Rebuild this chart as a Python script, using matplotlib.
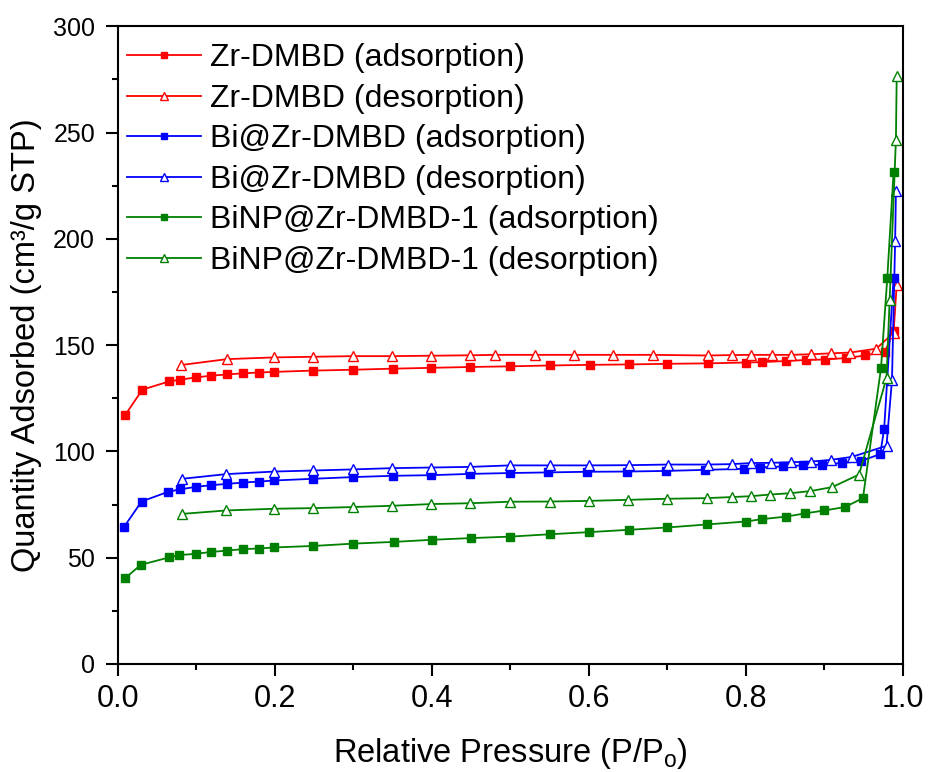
import matplotlib
matplotlib.use("Agg")
import matplotlib.pyplot as plt
from matplotlib.ticker import MultipleLocator

plt.rcParams['font.family'] = ['Liberation Sans', 'DejaVu Sans']

# Zr-DMBD
zr_ads_x = [0.009, 0.031, 0.065, 0.079, 0.099, 0.119, 0.139, 0.159, 0.18, 0.199,
            0.249, 0.299, 0.35, 0.399, 0.449, 0.499, 0.55, 0.601, 0.651, 0.70,
            0.751, 0.80, 0.82, 0.851, 0.876, 0.901, 0.927, 0.952, 0.977, 0.988]
zr_ads_y = [117, 129, 132.9, 133.7, 134.8, 135.6, 136.2, 136.7, 137.1, 137.4,
            138, 138.4, 138.9, 139.3, 139.7, 140.0, 140.4, 140.7, 140.9, 141.2,
            141.4, 141.8, 142.0, 142.5, 143.0, 143.2, 143.9, 145.1, 146.9, 156.4]
zr_des_x = [0.08, 0.139, 0.199, 0.249, 0.299, 0.349, 0.399, 0.449, 0.48, 0.531,
            0.581, 0.631, 0.681, 0.751, 0.782, 0.807, 0.833, 0.857, 0.883, 0.908,
            0.933, 0.966, 0.988, 0.992]
zr_des_y = [140.6, 143.4, 144.2, 144.5, 144.8, 144.8, 145.0, 145.2, 145.4, 145.4,
            145.4, 145.4, 145.4, 145.1, 145.3, 145.4, 145.4, 145.4, 145.7, 146.1,
            146.5, 148.3, 155.8, 178.4]

# Bi@Zr-DMBD
bi_ads_x = [0.008, 0.030, 0.064, 0.079, 0.099, 0.119, 0.139, 0.159, 0.18, 0.199,
            0.249, 0.299, 0.35, 0.399, 0.449, 0.499, 0.548, 0.598, 0.648, 0.698,
            0.748, 0.797, 0.818, 0.847, 0.872, 0.897, 0.922, 0.946, 0.971, 0.976, 0.988]
bi_ads_y = [64.6, 76.4, 81.0, 82.1, 83.3, 84.1, 84.7, 85.3, 85.8, 86.3,
            87.1, 87.9, 88.5, 88.8, 89.4, 89.8, 90.1, 90.4, 90.5, 90.8,
            91.3, 91.8, 92.4, 92.9, 93.4, 93.8, 94.5, 95.4, 98.7, 110.6, 181.5]
bi_des_x = [0.082, 0.138, 0.199, 0.249, 0.299, 0.349, 0.399, 0.449, 0.499, 0.55,
            0.6, 0.651, 0.701, 0.751, 0.782, 0.807, 0.832, 0.857, 0.883, 0.908,
            0.935, 0.979, 0.986, 0.99, 0.991]
bi_des_y = [87.1, 89.3, 90.5, 91.0, 91.5, 92.1, 92.4, 92.7, 93.4, 93.4,
            93.4, 93.5, 93.8, 93.8, 94.0, 94.5, 94.6, 94.9, 95.2, 96.0,
            97.4, 102.6, 133.7, 198.8, 222.3]

# BiNP@Zr-DMBD-1
np_ads_x = [0.009, 0.029, 0.065, 0.078, 0.099, 0.119, 0.139, 0.159, 0.18, 0.199,
            0.249, 0.3, 0.351, 0.4, 0.45, 0.5, 0.55, 0.6, 0.651, 0.70,
            0.75, 0.80, 0.82, 0.851, 0.875, 0.90, 0.926, 0.949, 0.972, 0.98, 0.988]
np_ads_y = [40.3, 46.6, 50.1, 51.2, 51.8, 52.7, 53.3, 54.0, 54.3, 54.8,
            55.5, 56.6, 57.4, 58.4, 59.2, 59.9, 61.0, 62.0, 63.1, 64.2,
            65.6, 67.0, 68.1, 69.3, 70.8, 72.2, 73.8, 78.0, 139.2, 181.5, 231.3]
np_des_x = [0.082, 0.138, 0.199, 0.249, 0.299, 0.349, 0.399, 0.449, 0.499, 0.55,
            0.6, 0.65, 0.70, 0.75, 0.782, 0.806, 0.831, 0.856, 0.882, 0.91,
            0.944, 0.979, 0.983, 0.991, 0.992]
np_des_y = [70.6, 72.2, 73.0, 73.3, 73.8, 74.4, 75.2, 75.6, 76.3, 76.4,
            76.7, 77.2, 77.7, 78.0, 78.5, 78.9, 79.7, 80.3, 81.3, 83.2,
            89.1, 134.5, 171.3, 246.7, 276.5]

series = [
    (zr_ads_x, zr_ads_y, '#ff0000', 's', 'Zr-DMBD (adsorption)'),
    (zr_des_x, zr_des_y, '#ff0000', '^', 'Zr-DMBD (desorption)'),
    (bi_ads_x, bi_ads_y, '#0000ff', 's', 'Bi@Zr-DMBD (adsorption)'),
    (bi_des_x, bi_des_y, '#0000ff', '^', 'Bi@Zr-DMBD (desorption)'),
    (np_ads_x, np_ads_y, '#008000', 's', 'BiNP@Zr-DMBD-1 (adsorption)'),
    (np_des_x, np_des_y, '#008000', '^', 'BiNP@Zr-DMBD-1 (desorption)'),
]

fig = plt.figure(figsize=(9.29, 7.72), dpi=100)
ax = fig.add_axes([0.127, 0.140, 0.845, 0.826])

for xs, ys, col, mk, lab in series:
    if mk == 's':
        ax.plot(xs, ys, color=col, lw=1.3, marker='s', ms=5.3,
                mfc=col, mec=col, label=lab)
    else:
        ax.plot(xs, ys, color=col, lw=1.3, marker='^', ms=7.5,
                mfc='white', mec=col, mew=1.0, label=lab)

ax.set_xlim(0, 1.0)
ax.set_ylim(0, 300)
ax.xaxis.set_major_locator(MultipleLocator(0.2))
ax.xaxis.set_minor_locator(MultipleLocator(0.1))
ax.yaxis.set_major_locator(MultipleLocator(50))
ax.yaxis.set_minor_locator(MultipleLocator(25))
ax.xaxis.set_major_formatter(matplotlib.ticker.FormatStrFormatter('%.1f'))

for s in ax.spines.values():
    s.set_linewidth(1.5)
ax.tick_params(which='major', direction='out', length=8.5, width=1.5)
ax.tick_params(which='minor', direction='out', length=4.3, width=1.5)
ax.tick_params(axis='x', which='major', labelsize=22, pad=6)
ax.tick_params(axis='y', which='major', labelsize=18, pad=8)

ax.set_xlabel('Relative Pressure (P/P$_\\mathregular{o}$)', fontsize=23.5, labelpad=16)
ax.set_ylabel('Quantity Adsorbed (cm³/g STP)', fontsize=23.5, labelpad=8)

ax.legend(loc='upper left', bbox_to_anchor=(-0.01, 1.0), frameon=False,
          fontsize=23, markerscale=0.75, handlelength=2.3, handletextpad=0.3,
          labelspacing=0.33, borderaxespad=0.25, borderpad=0.28)

fig.savefig('out.png', dpi=100)
